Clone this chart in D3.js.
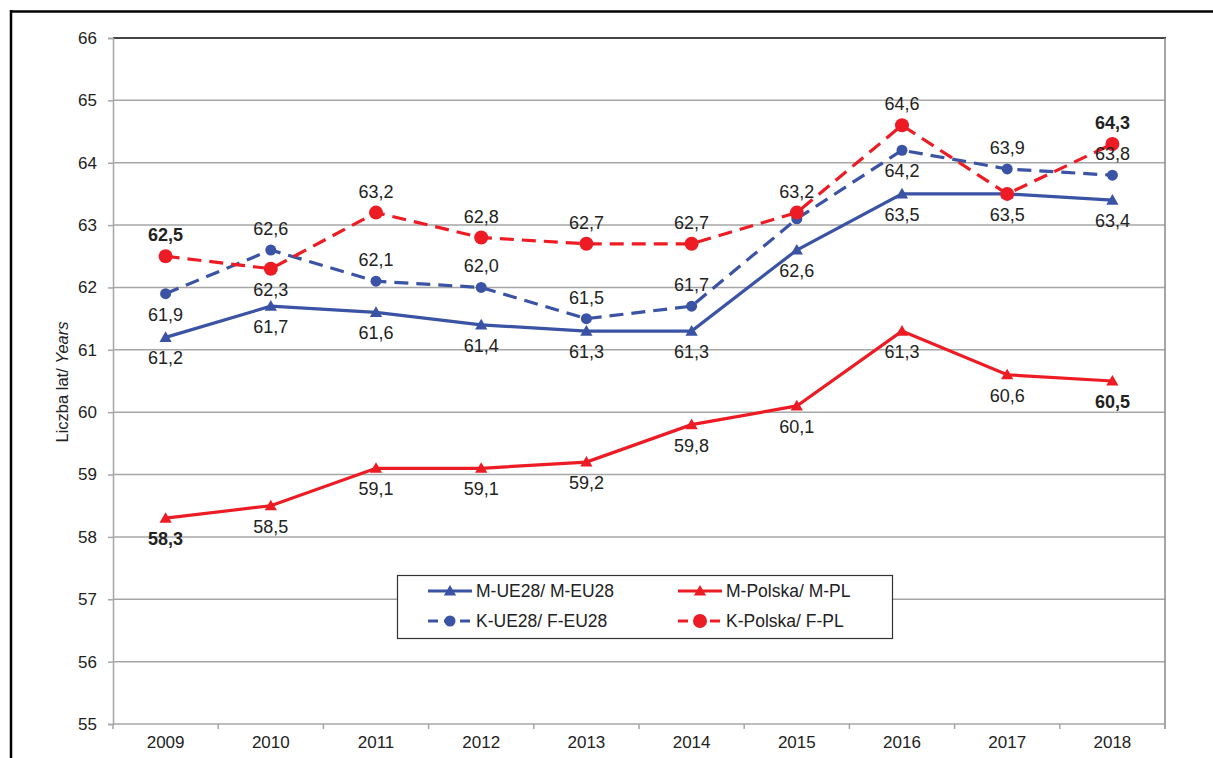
<!DOCTYPE html>
<html>
<head>
<meta charset="utf-8">
<script src="https://cdn.jsdelivr.net/npm/d3@7"></script>
<style>
body { margin: 0; background: #fff; }
svg { font-family: "Liberation Sans", Arial, sans-serif; }
</style>
</head>
<body>
<div id="chart"></div>
<script>
var years = ["2009", "2010", "2011", "2012", "2013", "2014", "2015", "2016", "2017", "2018"];
var yTicks = [55, 56, 57, 58, 59, 60, 61, 62, 63, 64, 65, 66];

var mEU = [61.2, 61.7, 61.6, 61.4, 61.3, 61.3, 62.6, 63.5, 63.5, 63.4];
var mPL = [58.3, 58.5, 59.1, 59.1, 59.2, 59.8, 60.1, 61.3, 60.6, 60.5];
var kEU = [61.9, 62.6, 62.1, 62.0, 61.5, 61.7, 63.1, 64.2, 63.9, 63.8];
var kPL = [62.5, 62.3, 63.2, 62.8, 62.7, 62.7, 63.2, 64.6, 63.5, 64.3];

// label placement: a = above, b = below, "" = no label
var mEUPos = ["b", "b", "b", "b", "b", "b", "b", "b", "b", "b"];
var mPLPos = ["b", "b", "b", "b", "b", "b", "b", "b", "b", "b"];
var kEUPos = ["b", "a", "a", "a", "a", "a", "", "b", "a", "a"];
var kPLPos = ["a", "b", "a", "a", "a", "a", "a", "a", "", "a"];
var mPLBold = [1, 0, 0, 0, 0, 0, 0, 0, 0, 1];
var kPLBold = [1, 0, 0, 0, 0, 0, 0, 0, 0, 1];

var series = [
  { name: "M-UE28/ M-EU28", values: mEU, pos: mEUPos, bold: null, color: "#3a53a4", dash: null, marker: "tri" },
  { name: "M-Polska/ M-PL", values: mPL, pos: mPLPos, bold: mPLBold, color: "#ed1c24", dash: null, marker: "tri" },
  { name: "K-UE28/ F-EU28", values: kEU, pos: kEUPos, bold: null, color: "#3a53a4", dash: "14,8", marker: "dot" },
  { name: "K-Polska/ F-PL", values: kPL, pos: kPLPos, bold: kPLBold, color: "#ed1c24", dash: "14,8", marker: "bigdot" }
];

var W = 1213, H = 758;
var pLeft = 113, pRight = 1165, pTop = 38, pBottom = 724;

var svg = d3.select("#chart").append("svg")
    .attr("width", W)
    .attr("height", H);

// outer frame
svg.append("line").attr("x1", 11).attr("x2", W).attr("y1", 11.5).attr("y2", 11.5)
    .attr("stroke", "#000").attr("stroke-width", 2.5);
svg.append("line").attr("x1", 11).attr("x2", 11).attr("y1", 10).attr("y2", H)
    .attr("stroke", "#000").attr("stroke-width", 2.5);

var x = d3.scaleBand().domain(years).range([pLeft, pRight]).padding(0);
var y = d3.scaleLinear().domain([55, 66]).range([pBottom, pTop]);
var fmt = function (v) { return d3.format(".1f")(v).replace(".", ","); };

// gridlines
svg.append("g").selectAll("line")
    .data(yTicks.slice(1, -1))
    .enter().append("line")
    .attr("x1", pLeft).attr("x2", pRight)
    .attr("y1", function (d) { return y(d); })
    .attr("y2", function (d) { return y(d); })
    .attr("stroke", "#a6a6a6").attr("stroke-width", 1.5);

// top border & right border
svg.append("line").attr("x1", pLeft).attr("x2", pRight + 1)
    .attr("y1", y(66)).attr("y2", y(66))
    .attr("stroke", "#444").attr("stroke-width", 1.8);
svg.append("line").attr("x1", pRight).attr("x2", pRight)
    .attr("y1", y(66)).attr("y2", y(55) + 5)
    .attr("stroke", "#888").attr("stroke-width", 1.5);

// y axis
var yAxis = svg.append("g")
    .attr("transform", "translate(" + pLeft + ",0)")
    .call(d3.axisLeft(y).tickValues(yTicks).tickSize(5).tickPadding(11).tickFormat(d3.format("d")));
yAxis.select(".domain").attr("stroke", "#a6a6a6").attr("stroke-width", 1.5);
yAxis.selectAll(".tick line").attr("stroke", "#a6a6a6").attr("stroke-width", 1.5);
yAxis.selectAll("text").attr("font-size", 17).attr("fill", "#222")
    .attr("font-family", "Liberation Sans, Arial, sans-serif");

// x axis
var xAxis = svg.append("g")
    .attr("transform", "translate(0," + pBottom + ")")
    .call(d3.axisBottom(x).tickSize(0).tickPadding(12));
xAxis.select(".domain").remove();
xAxis.selectAll("text").attr("font-size", 17).attr("fill", "#222")
    .attr("font-family", "Liberation Sans, Arial, sans-serif");
svg.append("line").attr("x1", pLeft).attr("x2", pRight)
    .attr("y1", pBottom).attr("y2", pBottom)
    .attr("stroke", "#a6a6a6").attr("stroke-width", 1.5);
svg.append("g").selectAll("line")
    .data(years.concat(["end"]))
    .enter().append("line")
    .attr("x1", function (d, i) { return pLeft + i * x.bandwidth(); })
    .attr("x2", function (d, i) { return pLeft + i * x.bandwidth(); })
    .attr("y1", pBottom).attr("y2", pBottom + 5)
    .attr("stroke", "#a6a6a6").attr("stroke-width", 1.5);

// y axis title
var yt = svg.append("text")
    .attr("transform", "translate(62,382) rotate(-90)")
    .attr("text-anchor", "middle")
    .attr("dominant-baseline", "central")
    .attr("font-size", 16.5)
    .attr("fill", "#222");
yt.append("tspan").text("Liczba lat/ ");
yt.append("tspan").attr("font-style", "italic").text("Years");

var cx = function (i) { return x(years[i]) + x.bandwidth() / 2; };

function drawMarker(g, s, px, py) {
  if (s.marker === "tri") {
    g.append("path")
      .attr("d", d3.symbol().type(d3.symbolTriangle).size(65)())
      .attr("transform", "translate(" + px + "," + (py + 1) + ")")
      .attr("fill", s.color);
  } else {
    g.append("circle").attr("cx", px).attr("cy", py)
      .attr("r", s.marker === "bigdot" ? 7 : 5.5)
      .attr("fill", s.color);
  }
}

var line = d3.line()
    .x(function (d, i) { return cx(i); })
    .y(function (d) { return y(d); });

series.forEach(function (s) {
  var g = svg.append("g");
  g.append("path")
    .datum(s.values)
    .attr("d", line)
    .attr("fill", "none")
    .attr("stroke", s.color)
    .attr("stroke-width", 3.2)
    .attr("stroke-dasharray", s.dash);
  s.values.forEach(function (v, i) { drawMarker(g, s, cx(i), y(v)); });
});

// data labels
series.forEach(function (s) {
  s.values.forEach(function (v, i) {
    if (!s.pos[i]) return;
    svg.append("text")
      .attr("x", cx(i))
      .attr("y", y(v) + (s.pos[i] === "a" ? -21 : 21))
      .attr("text-anchor", "middle")
      .attr("dominant-baseline", "central")
      .attr("font-size", 18)
      .attr("font-weight", s.bold && s.bold[i] ? "bold" : "normal")
      .attr("fill", "#222")
      .text(fmt(v));
  });
});

// legend
var lg = svg.append("g");
lg.append("rect").attr("x", 397.5).attr("y", 575.5).attr("width", 495).attr("height", 63)
  .attr("fill", "#fff").attr("stroke", "#333").attr("stroke-width", 1.2);
var legendPos = [[428, 591], [678, 591], [428, 621], [678, 621]];
series.forEach(function (s, i) {
  var p = legendPos[i];
  lg.append("line").attr("x1", p[0]).attr("x2", p[0] + 44)
    .attr("y1", p[1]).attr("y2", p[1])
    .attr("stroke", s.color).attr("stroke-width", 3.2)
    .attr("stroke-dasharray", s.dash ? "10,6" : null);
  drawMarker(lg, s, p[0] + 22, p[1]);
  lg.append("text").attr("x", p[0] + 48).attr("y", p[1])
    .attr("dominant-baseline", "central")
    .attr("font-size", 17.5).attr("fill", "#222")
    .text(s.name);
});
</script>
</body>
</html>
